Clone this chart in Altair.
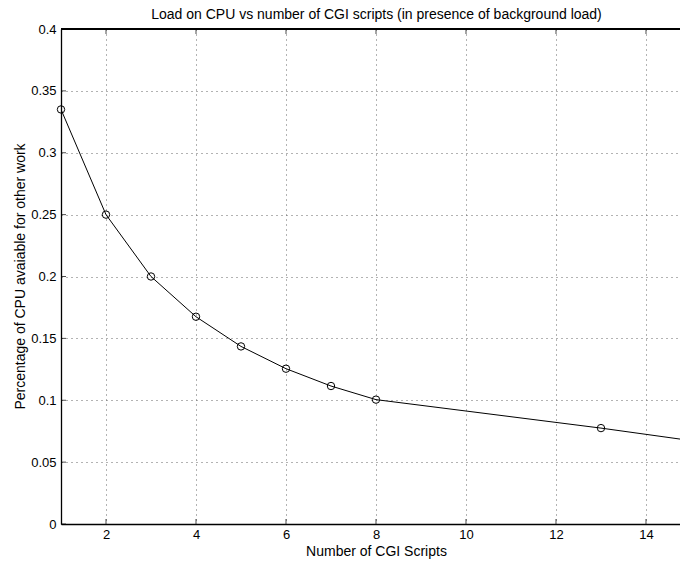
import altair as alt
import pandas as pd

# data
n_scripts = [1, 2, 3, 4, 5, 6, 7, 8, 13, 15]
cpu_avail = [0.335, 0.25, 0.2, 0.1675, 0.1435, 0.1255, 0.1115, 0.1005, 0.0775, 0.0674]
x_ticks = [2, 4, 6, 8, 10, 12, 14]
y_ticks = [0, 0.05, 0.1, 0.15, 0.2, 0.25, 0.3, 0.35, 0.4]
x_domain = [1, 14.756]
y_domain = [0, 0.4]

df = pd.DataFrame({"n": n_scripts, "cpu": cpu_avail})
xt = pd.DataFrame({"t": x_ticks})
yt = pd.DataFrame({"t": y_ticks})

FONT = "Liberation Sans"
FS = 14
LFS = 13

xs = alt.Scale(domain=x_domain, nice=False, zero=False)
ys = alt.Scale(domain=y_domain, nice=False, zero=True)

x_axis = alt.Axis(values=x_ticks, title="Number of CGI Scripts", grid=True,
                  gridDash=[1, 4], gridColor="#666", gridWidth=1,
                  tickSize=0, labelPadding=4, domain=True, domainColor="black",
                  domainWidth=1.3, labelFontSize=LFS, titleFontSize=FS,
                  titleFontWeight="normal", labelColor="black",
                  titleColor="black", titleX=315, titleY=31,
                  titleBaseline="alphabetic", titleAlign="center",
                  labelFont=FONT, titleFont=FONT)
y_axis = alt.Axis(values=y_ticks, title="Percentage of CPU avaiable for other work",
                  grid=True, gridDash=[1, 4], gridColor="#666", gridWidth=1,
                  tickSize=0, labelPadding=5, domain=True, domainColor="black",
                  domainWidth=1.3, labelFontSize=LFS, titleFontSize=FS,
                  titleFontWeight="normal", labelColor="black",
                  titleColor="black", labelFont=FONT, titleFont=FONT,
                  titleX=-37, titleY=247, titleAngle=270,
                  titleBaseline="alphabetic", titleAlign="center",
                  labelExpr="datum.value == 0 ? '0' : format(datum.value, '~g')")

line = alt.Chart(df).mark_line(color="black", strokeWidth=1, clip=True).encode(
    x=alt.X("n:Q", scale=xs, axis=x_axis),
    y=alt.Y("cpu:Q", scale=ys, axis=y_axis),
)

pts = alt.Chart(df).transform_filter("datum.n <= 14").mark_point(
    shape="circle", filled=False, color="black", size=55, strokeWidth=1, opacity=1
).encode(x=alt.X("n:Q", scale=xs), y=alt.Y("cpu:Q", scale=ys))

bottom_ticks = alt.Chart(xt).mark_tick(orient="vertical", color="black", size=5,
                                       thickness=1, yOffset=-2.5).encode(
    x=alt.X("t:Q", scale=xs), y=alt.datum(0, scale=ys))
top_ticks = alt.Chart(xt).mark_tick(orient="vertical", color="black", size=5,
                                    thickness=1, yOffset=2.5).encode(
    x=alt.X("t:Q", scale=xs), y=alt.datum(0.4, scale=ys))
left_ticks = alt.Chart(yt).mark_tick(orient="horizontal", color="black", size=5,
                                     thickness=1, xOffset=2.5).encode(
    y=alt.Y("t:Q", scale=ys), x=alt.datum(1, scale=xs))
top_border = alt.Chart(xt).mark_rule(color="black", strokeWidth=1.3).encode(
    x=alt.value(0), x2=alt.value(619), y=alt.value(0))

chart = alt.layer(line, pts, bottom_ticks, top_ticks, left_ticks, top_border).properties(
    width=619, height=495,
    title=alt.Title("Load on CPU vs number of CGI scripts (in presence of background load)",
                    fontSize=FS, fontWeight="normal", font=FONT, color="black",
                    offset=1, dx=6),
    autosize=alt.AutoSizeParams(type="none"),
    padding={"left": 61, "top": 29, "right": 0, "bottom": 38},
).configure_view(stroke=None).configure(background="white")

chart.save("out.html", embed_options={"renderer": "svg", "actions": False})
